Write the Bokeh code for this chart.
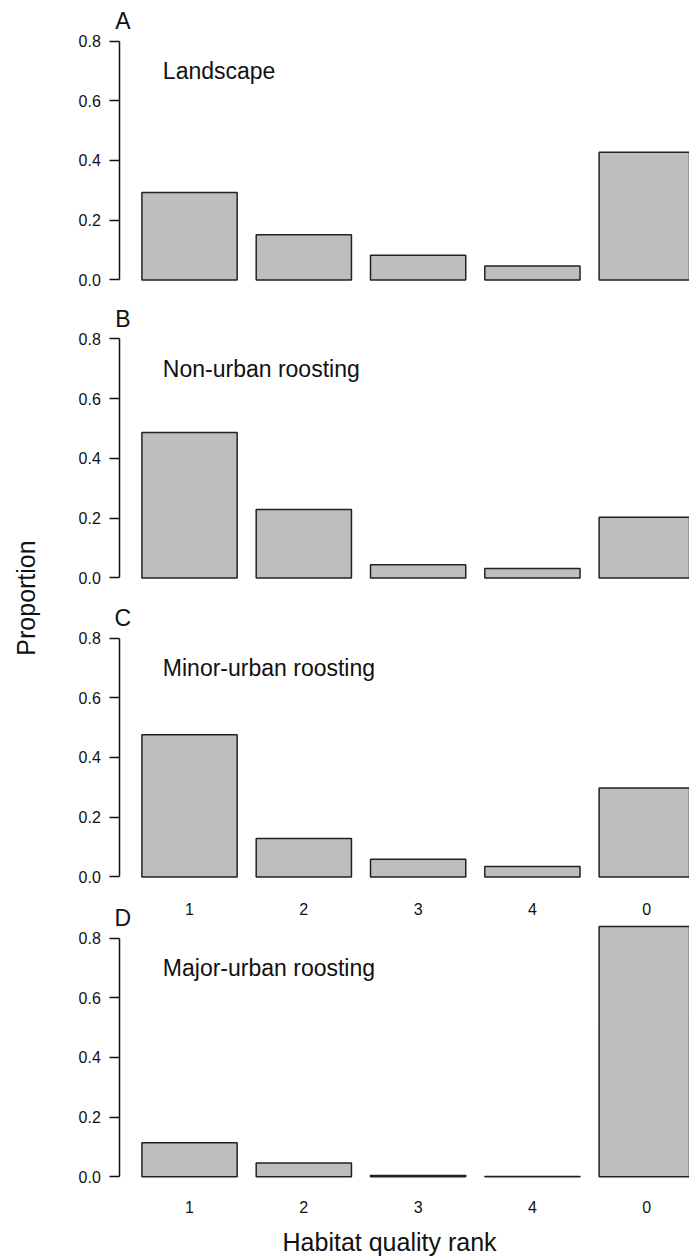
import math
from bokeh.plotting import figure
from bokeh.layouts import row, column
from bokeh.models import Range1d, FixedTicker, NumeralTickFormatter, Label, LinearAxis
from bokeh.embed import file_html
from bokeh.resources import INLINE

# ---- data ----
ranks = ["1", "2", "3", "4", "0"]
landscape = [0.293, 0.151, 0.083, 0.047, 0.428]
non_urban = [0.487, 0.229, 0.044, 0.032, 0.203]
minor_urban = [0.476, 0.129, 0.059, 0.035, 0.298]
major_urban = [0.114, 0.046, 0.004, 0.0005, 0.839]
panel_letters = ["A", "B", "C", "D"]
panel_titles = ["Landscape", "Non-urban roosting", "Minor-urban roosting", "Major-urban roosting"]
y_ticks = [0.0, 0.2, 0.4, 0.6, 0.8]
x_title = "Habitat quality rank"
y_title = "Proportion"

FONT = "Liberation Sans"
INK = "#111111"
BAR_FILL = "#bebebe"
BAR_LINE = "#222222"

# R barplot layout: bar width 1, space 0.2
centers = [round(0.7 + 1.2 * i, 2) for i in range(len(ranks))]
rank_labels = {c: r for c, r in zip(centers, ranks)}
PX_PER_X = 95.25
LEFT_W = 50
PANEL_W = 639
BORDER_L = 10
FRAME_W = PANEL_W - BORDER_L
AXIS_X = -0.032                      # where the y axis line sits (R plot-region edge)
X0 = AXIS_X - (119.3 - LEFT_W - BORDER_L) / PX_PER_X
X1 = X0 + FRAME_W / PX_PER_X


def style_rank_axis(xa, standoff):
    xa.ticker = FixedTicker(ticks=centers)
    xa.major_label_overrides = dict(rank_labels)
    xa.axis_line_color = None
    xa.major_tick_line_color = None
    xa.minor_tick_line_color = None
    xa.major_tick_out = 0
    xa.major_tick_in = 0
    xa.major_label_standoff = standoff
    xa.major_label_text_font = FONT
    xa.major_label_text_font_size = "16px"
    xa.major_label_text_color = INK


def make_panel(vals, title, letter, y_start, y_end, height, b_top, b_bottom, x_standoff):
    show_x = x_standoff is not None
    p = figure(width=PANEL_W, height=height,
               x_range=Range1d(X0, X1), y_range=Range1d(y_start, y_end),
               output_backend="svg", toolbar_location=None,
               x_axis_location="below" if show_x else None,
               min_border_left=BORDER_L, min_border_right=0,
               min_border_top=b_top, min_border_bottom=b_bottom)
    p.outline_line_color = None
    p.grid.visible = False
    p.background_fill_color = "white"
    p.border_fill_color = "white"

    p.vbar(x=centers, top=vals, bottom=0, width=1.0,
           fill_color=BAR_FILL, line_color=BAR_LINE, line_width=1.5)

    ya = p.yaxis[0]
    ya.fixed_location = AXIS_X
    ya.ticker = FixedTicker(ticks=y_ticks)
    ya.formatter = NumeralTickFormatter(format="0.0")
    ya.bounds = (0, 0.8)
    ya.major_tick_out = 10
    ya.major_tick_in = 0
    ya.minor_tick_line_color = None
    ya.axis_line_width = 1.5
    ya.major_tick_line_width = 1.5
    ya.axis_line_color = INK
    ya.major_tick_line_color = INK
    ya.major_label_standoff = 9
    ya.major_label_text_font = FONT
    ya.major_label_text_font_size = "16px"
    ya.major_label_text_color = INK

    if show_x:
        xa = p.xaxis[0]
        xa.fixed_location = 0
        style_rank_axis(xa, x_standoff)

    p.add_layout(Label(x=0.42, y=0.7, text=title, text_align="left",
                       text_baseline="middle", text_font=FONT,
                       text_font_size="23px", text_color=INK))
    p.add_layout(Label(x=0.0, y=0.866, text=letter, text_align="center",
                       text_baseline="middle", text_font=FONT,
                       text_font_size="23px", text_color=INK))
    return p


pA = make_panel(landscape, panel_titles[0], panel_letters[0], -0.032, 0.919, 299, 5, 10, None)
pB = make_panel(non_urban, panel_titles[1], panel_letters[1], -0.032, 0.9155, 298, 5, 10, None)
pC = make_panel(minor_urban, panel_titles[2], panel_letters[2], -0.032, 0.919, 289, 5, 0, None)
pD = make_panel(major_urban, panel_titles[3], panel_letters[3], -0.2709, 0.9729, 371, 0, 0, 24)

# rank labels under panel C (same categories, drawn in the gap above panel D's bars)
top_axis = LinearAxis(fixed_location=0.879)
style_rank_axis(top_axis, 0)
pD.add_layout(top_axis, "above")

# x-axis title under panel D
pD.add_layout(Label(x=2.8, y=-0.218, text=x_title, text_align="center",
                    text_baseline="middle", text_font=FONT,
                    text_font_size="25px", text_color=INK))

# y-axis title in a narrow strip on the left
pL = figure(width=LEFT_W, height=1257, x_range=Range1d(0, 1), y_range=Range1d(0, 1),
            output_backend="svg", toolbar_location=None,
            x_axis_location=None, y_axis_location=None, min_border=0)
pL.outline_line_color = None
pL.grid.visible = False
pL.add_layout(Label(x=0.5, y=(1257 - 597.5) / 1257, text=y_title, angle=math.pi / 2,
                    text_align="center", text_baseline="middle", text_font=FONT,
                    text_font_size="25px", text_color=INK))

layout = row(pL, column(pA, pB, pC, pD))

open("out.html", "w").write(file_html(layout, INLINE))
